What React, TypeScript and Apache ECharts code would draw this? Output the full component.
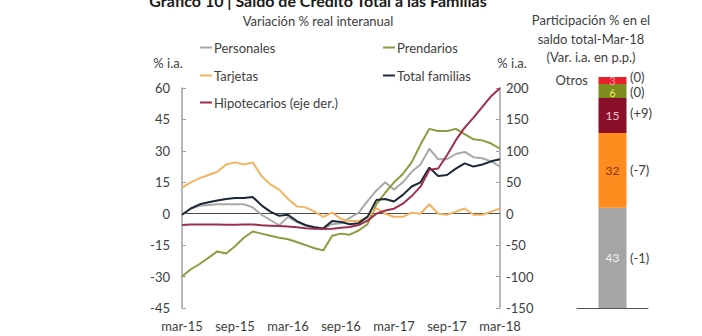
import React, { useEffect, useRef } from "react";
import * as echarts from "echarts";

const months = ["mar-15","abr-15","may-15","jun-15","jul-15","ago-15","sep-15","oct-15","nov-15","dic-15","ene-16","feb-16","mar-16","abr-16","may-16","jun-16","jul-16","ago-16","sep-16","oct-16","nov-16","dic-16","ene-17","feb-17","mar-17","abr-17","may-17","jun-17","jul-17","ago-17","sep-17","oct-17","nov-17","dic-17","ene-18","feb-18","mar-18"];

const personales = [-0.5, 2.5, 3.8, 4.2, 4.5, 4.5, 4.5, 4.5, 3, -0.5, -3, -5.5, -1.5, -4, -5.5, -6.5, -7, -5, -4.5, -2, 0.5, 6, 11, 15, 11.5, 15, 20, 23.5, 31, 26, 26, 28.5, 29.5, 27, 26.5, 25, 22.5];
const tarjetas = [12.5, 15, 17, 18.5, 20, 23.5, 24.5, 23.5, 24.5, 18, 14, 11.5, 7, 3.5, 3, 1, -1.5, 0.5, -2.5, -3.5, -3.5, -1.5, 2.5, 0, -1.5, -1.5, 0.5, 0, 4.5, 0, -0.5, 1, 2.5, -0.5, -0.5, 1, 2.5];
const totalFamilias = [-0.5, 2.5, 4.5, 5.5, 6.3, 7, 7.5, 7.5, 8, 4, 1, -1, -0.5, -3.5, -5.5, -6.5, -7, -3.5, -4, -5, -4.5, -1.5, 6.5, 7, 5.8, 9, 13, 15, 22, 18, 18.5, 21.5, 24, 22.5, 23.5, 25, 26];
const prendarios = [-30, -26.5, -24, -21, -18, -19, -15.5, -11.5, -8.5, -9.5, -10.5, -11.5, -12.2, -13.5, -15, -16.5, -17.5, -10.5, -9.5, -10, -8, -5, 4.5, 10, 15, 19, 24.5, 33, 40.5, 39.5, 39.5, 40.5, 38, 35.5, 35, 33.5, 31];
const hipotecarios = [-18, -17, -17, -17, -17, -17.5, -17.5, -17, -17, -18.5, -19, -19.5, -20.5, -21.5, -23, -24, -24.5, -24, -22.5, -21, -18, -11, 0, 5, 8, 16, 28, 43, 70, 72, 93, 117, 137, 153, 170, 187, 200];

const leftTicks = { min: -45, max: 60, interval: 15 };
const rightTicks = { min: -150, max: 200, interval: 50 };

const shareNames = ["Personales", "Tarjetas", "Hipotecarios", "Prendarios", "Otros"];
const shareValues = [43, 32, 15, 6, 3];
const shareChanges = ["(-1)", "(-7)", "(+9)", "(0)", "(0)"];
const shareColors = ["#A5A5A5", "#FF8C1E", "#8A0F2A", "#7E8C1E", "#E8202C"];
const shareLabelColors = ["#F2F2F2", "#8A3410", "#F3C2CF", "#F2E35A", "#FF9AA6"];

const FONT = "Lato";
const TXT = "#404040";

export default function App() {
  const ref = useRef<HTMLDivElement>(null);
  useEffect(() => {
    document.body.style.margin = "0";
    if (!ref.current) return;
    const chart = echarts.init(ref.current, undefined, { renderer: "svg" });
    const lineSeries = [
      { name: "Personales", data: personales, color: "#A8A8A8", y: 0 },
      { name: "Prendarios", data: prendarios, color: "#8E9B3F", y: 0 },
      { name: "Tarjetas", data: tarjetas, color: "#F2B460", y: 0 },
      { name: "Total familias", data: totalFamilias, color: "#1C2738", y: 0 },
      { name: "Hipotecarios (eje der.)", data: hipotecarios, color: "#9E2E4C", y: 1 },
    ];
    const legendPos: Record<string, [number, number]> = {
      "Personales": [200, 41],
      "Tarjetas": [200, 69],
      "Hipotecarios (eje der.)": [200, 96],
      "Prendarios": [383, 41],
      "Total familias": [383, 69],
    };
    const legends = lineSeries.map((s) => ({
      data: [s.name],
      left: legendPos[s.name][0],
      top: legendPos[s.name][1],
      padding: 0,
      icon: "rect",
      itemWidth: 12,
      itemHeight: 2,
      selectedMode: false,
      textStyle: { fontFamily: FONT, fontSize: 13, color: TXT, padding: [0, 0, 0, -3] },
    }));
    const series: any[] = lineSeries.map((s, idx) => ({
      name: s.name,
      type: "line",
      xAxisIndex: 0,
      yAxisIndex: s.y,
      data: s.data,
      symbol: "none",
      z: idx === 4 ? 3 : 2,
      lineStyle: { color: s.color, width: 2 },
      itemStyle: { color: s.color },
      ...(idx === 0
        ? {
            markLine: {
              silent: true,
              symbol: "none",
              label: { show: false },
              lineStyle: { color: "#4A4A4A", width: 1, type: "solid" },
              data: [{ yAxis: 0 }],
              z: 1,
            },
          }
        : {}),
    }));
    shareValues.forEach((v, i) => {
      series.push({
        name: shareNames[i],
        type: "bar",
        xAxisIndex: 1,
        yAxisIndex: 2,
        stack: "share",
        barWidth: 28,
        data: [v],
        itemStyle: { color: shareColors[i] },
        label: {
          show: true,
          position: "inside",
          fontFamily: FONT,
          fontSize: i >= 3 ? 11 : 12,
          lineHeight: i >= 3 ? 10 : 14,
          color: shareLabelColors[i],
          offset: i === 4 ? [0, 0] : i === 3 ? [0, 1] : [0, 0],
        },
      });
    });
    const axisGray = "#A0A0A0";
    chart.setOption({
      animation: false,
      textStyle: { fontFamily: FONT },
      legend: legends,
      grid: [
        { left: 182, right: 202, top: 88, bottom: 28, containLabel: false },
        { left: 577, width: 71, top: 77, bottom: 28, containLabel: false },
      ],
      xAxis: [
        {
          type: "category",
          gridIndex: 0,
          data: months,
          boundaryGap: false,
          axisLine: { show: false },
          axisTick: { show: false },
          axisLabel: { interval: 5, fontFamily: FONT, fontSize: 13, color: TXT, margin: 11 },
          splitLine: { show: false },
        },
        {
          type: "category",
          gridIndex: 1,
          data: ["Mar-18"],
          axisLine: { show: true, lineStyle: { color: "#555", width: 1 } },
          axisTick: { show: false },
          axisLabel: { show: false },
        },
      ],
      yAxis: [
        {
          type: "value",
          gridIndex: 0,
          ...leftTicks,
          axisLine: { show: true, lineStyle: { color: axisGray, width: 1.5 } },
          axisTick: { show: true, inside: true, length: 4, lineStyle: { color: axisGray } },
          axisLabel: { fontFamily: FONT, fontSize: 13, color: TXT, margin: 12 },
          splitLine: { show: false },
        },
        {
          type: "value",
          gridIndex: 0,
          position: "right",
          ...rightTicks,
          axisLine: { show: true, lineStyle: { color: axisGray, width: 1.5 } },
          axisTick: { show: true, inside: true, length: 4, lineStyle: { color: axisGray } },
          axisLabel: { fontFamily: FONT, fontSize: 13, color: TXT, margin: 6 },
          splitLine: { show: false },
        },
        {
          type: "value",
          gridIndex: 1,
          min: 0,
          max: 99,
          show: false,
        },
      ],
      series,
    });

    let cum = 0;
    const labelShift = [0, 0, -3, 1, -4];
    const changeTexts = shareValues.map((v, i) => {
      const mid = cum + v / 2;
      cum += v;
      const p = chart.convertToPixel({ xAxisIndex: 1, yAxisIndex: 2 } as any, ["Mar-18", mid]) as number[];
      return {
        type: "text",
        x: 630,
        y: p[1] + labelShift[i],
        style: { text: shareChanges[i], fontFamily: FONT, fontSize: 13, fill: TXT, textVerticalAlign: "middle", lineHeight: 13 },
      };
    });
    const topOther = chart.convertToPixel({ xAxisIndex: 1, yAxisIndex: 2 } as any, ["Mar-18", cum - shareValues[4] / 2]) as number[];

    const t = (text: string, x: number, y: number, extra: any = {}) => ({
      type: "text",
      x,
      y,
      style: { text, fontFamily: FONT, fontSize: 13, fill: TXT, textAlign: "center", textVerticalAlign: "middle", ...extra },
    });
    chart.setOption({
      graphic: [
        t("Gráfico 10 | Saldo de Crédito Total a las Familias", 318, 0, { fontSize: 16, fontWeight: "bold", fill: "#1a1a1a" }),
        t("Variación % real interanual", 318, 21),
        t("% i.a.", 168, 63),
        t("% i.a.", 512, 63),
        t("Participación % en el", 591, 20),
        t("saldo total-Mar-18", 591, 39),
        t("(Var. i.a. en p.p.)", 591, 57),
        t("Otros", 588, topOther[1] - 1, { textAlign: "right" }),
        ...changeTexts,
      ],
    });
    return () => chart.dispose();
  }, []);
  return <div ref={ref} style={{ width: 702, height: 336 }} />;
}
